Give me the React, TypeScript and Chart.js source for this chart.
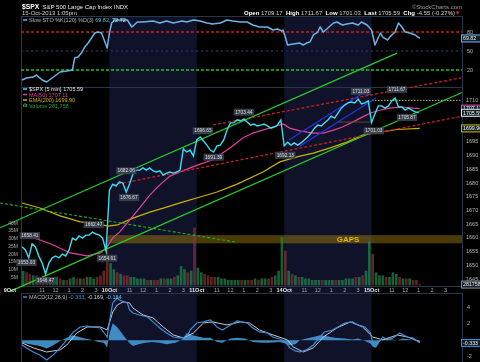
import React, { useEffect, useRef } from 'react';
import { Chart, registerables } from 'chart.js';

Chart.register(...registerables);

const FONT = '"Liberation Sans", Arial, Helvetica, sans-serif';

// ---------- time axis: 5-minute bars counted from 9-Oct-2013 09:30 ----------
const BARS_PER_SESSION = 78;
const SLOT_BARS = 3; // closes sampled every 15 minutes
const sessionLabels = ['9Oct', '10Oct', '11Oct', '14Oct', '15Oct'];
const shadedSessions = [1, 3];
const hourLabels = ['11', '12', '1', '2', '3'];
const hourOffsets = [18, 30, 42, 54, 66];
const X_MIN = -0.9;
const X_MAX = 392.7;

// ---------- $SPX 15-minute closes ----------
const closeOct9 = [1656.8, 1655.6, 1652.7, 1657.8, 1656.7, 1653.4, 1650.8, 1646.8, 1650.8, 1652.7, 1653.4, 1652.7, 1654.1, 1653.4, 1655.6, 1659.9, 1659.2, 1660.7, 1659.9, 1661.0, 1661.0, 1662.1, 1661.4, 1661.0, 1659.9, 1655.2];
const closeOct10 = [1677.4, 1679.6, 1678.9, 1680.4, 1680.0, 1676.7, 1679.6, 1683.3, 1684.7, 1684.7, 1685.5, 1684.7, 1685.5, 1684.4, 1684.0, 1684.4, 1682.9, 1683.6, 1684.0, 1683.6, 1684.0, 1684.7, 1692.4, 1691.3, 1692.0, 1689.8];
const closeOct11 = [1695.7, 1696.8, 1695.3, 1693.8, 1692.0, 1691.3, 1693.5, 1693.8, 1695.7, 1699.3, 1701.9, 1701.9, 1703.0, 1702.6, 1703.3, 1702.2, 1701.1, 1701.5, 1700.8, 1701.1, 1701.5, 1700.8, 1700.0, 1700.4, 1701.1, 1703.0];
const closeOct14 = [1693.5, 1694.9, 1693.8, 1694.6, 1693.8, 1694.6, 1695.7, 1696.8, 1698.2, 1700.0, 1701.1, 1700.8, 1701.9, 1703.0, 1704.4, 1703.7, 1705.5, 1707.3, 1708.4, 1709.2, 1709.5, 1709.2, 1710.6, 1708.8, 1709.2, 1709.9];
const closeOct15 = [1702.0, 1705.2, 1708.1, 1708.1, 1707.3, 1708.1, 1709.9, 1711.0, 1707.7, 1707.7, 1706.6, 1707.3, 1706.6, 1705.9, 1705.59];

// ---------- volume per 15-minute slot (millions, typical 5-min bar) ----------
const volOct9 = [9, 8, 7, 6, 6, 5, 6, 5, 4, 4, 5, 4, 3, 3, 4, 5, 4, 4, 4, 5, 5, 4, 5, 6, 9, 31];
const volOct10 = [14, 10, 8, 7, 6, 6, 5, 5, 4, 4, 4, 3, 3, 3, 3, 4, 4, 4, 4, 5, 6, 12, 10, 8, 9, 37];
const volOct11 = [11, 8, 7, 6, 5, 5, 5, 4, 4, 3, 3, 3, 3, 3, 3, 3, 3, 4, 3, 4, 4, 4, 5, 6, 9, 31];
const volOct14 = [22, 9, 7, 6, 5, 5, 4, 4, 3, 3, 3, 3, 3, 3, 3, 3, 3, 3, 4, 4, 4, 5, 5, 6, 9, 28];
const volOct15 = [20, 8, 6, 6, 5, 5, 8, 7, 5, 4, 4, 4, 3, 3, 0.28];

// ---------- MA(50) and EMA(200) ----------
const ma50Bars = [0, 16, 28, 43, 58, 70, 76, 81, 87, 96, 105, 114, 123, 132, 141, 150, 159, 170, 179, 188, 197, 206, 215, 224, 233, 239, 248, 260, 269, 278, 286, 295, 304, 311, 320, 328, 340, 349, 355];
const ma50Vals = [1661.4, 1659.2, 1657.4, 1654.5, 1653.4, 1654.5, 1656.7, 1660.0, 1662.1, 1666.5, 1670.9, 1675.6, 1679.3, 1682.5, 1684.0, 1685.5, 1686.9, 1688.4, 1690.9, 1693.5, 1696.4, 1698.2, 1699.3, 1700.4, 1701.5, 1700.0, 1699.0, 1698.2, 1698.2, 1699.3, 1700.4, 1702.2, 1704.1, 1705.5, 1706.6, 1707.3, 1707.7, 1707.3, 1707.11];
const ema200Bars = [0, 16, 34, 52, 67, 77, 85, 99, 114, 129, 144, 159, 174, 192, 215, 230, 248, 260, 275, 290, 304, 320, 335, 355];
const ema200Vals = [1672.7, 1670.9, 1668.0, 1665.8, 1665.1, 1664.3, 1664.7, 1667.2, 1669.4, 1671.2, 1673.1, 1674.9, 1676.7, 1679.6, 1684.0, 1687.7, 1689.8, 1690.9, 1692.8, 1694.9, 1697.5, 1698.6, 1699.5, 1699.9];

// ---------- Slow STO %K(120) ----------
const stoBars = [0, 4, 10, 13, 18, 22, 28, 34, 40, 45, 47, 50, 53, 56, 59, 62, 65, 68, 71, 74, 76, 78, 80, 83, 87, 94, 98, 103, 108, 117, 123, 129, 135, 143, 147, 153, 159, 165, 170, 177, 183, 188, 195, 201, 206, 212, 219, 224, 228, 232, 233, 235, 237, 242, 248, 251, 254, 257, 260, 264, 266, 269, 273, 278, 281, 286, 290, 295, 300, 303, 308, 312, 315, 317, 320, 322, 326, 330, 333, 336, 339, 342, 346, 351, 355];
const stoVals = [4.2, 7.3, 8.9, 12.1, 4.2, 1.0, 8.9, 16.8, 18.4, 20, 38.9, 40.5, 46.8, 56.3, 62.6, 70.5, 78.4, 80, 78.4, 64.2, 54.7, 78.4, 94.2, 99, 99, 99, 87.9, 95.8, 95.8, 97.4, 94.2, 97.4, 94.2, 97.4, 95.8, 99, 97.4, 94.2, 92.6, 94.2, 99, 97.4, 95.8, 95.8, 91.1, 87.9, 87.9, 83.2, 84.7, 81.6, 83.2, 72.1, 59.5, 61, 62.6, 59.5, 62.6, 64.2, 75.3, 80, 87.9, 80, 86.3, 94.2, 95.8, 91.1, 92.6, 94.2, 91.1, 95.8, 91.1, 83.2, 59.5, 67.4, 78.4, 72.1, 67.4, 75.3, 80, 94.2, 87.9, 80, 78.4, 75.3, 69.82];
const stoLevels = [80, 50, 20];

// ---------- MACD(12,26,9) ----------
const macdBars = [0, 4, 10, 16, 22, 28, 34, 40, 46, 52, 58, 63, 70, 76, 78, 81, 85, 87, 94, 96, 99, 105, 112, 117, 123, 129, 135, 141, 147, 150, 156, 162, 168, 174, 179, 186, 192, 201, 206, 212, 219, 224, 230, 235, 239, 244, 248, 254, 260, 266, 270, 277, 282, 288, 295, 300, 306, 311, 313, 315, 320, 322, 326, 331, 335, 337, 344, 349, 355];
const macdVals = [-0.58, -0.94, -1.44, -1.8, -2.42, -1.8, -0.94, 0.04, 1.02, 1.63, 1.75, 1.63, 1.51, 0.4, 2.25, 4.58, 5.19, 4.94, 4.58, 3.72, 3.35, 3.1, 2.86, 2.25, 1.51, 0.9, 0.4, 0.28, 0.28, 1.26, 2.12, 2.25, 2.49, 1.63, 1.26, 1.88, 2.37, 2.12, 1.51, 1.02, 0.9, 0.4, 0.16, -0.21, -0.94, -1.31, -1.44, -1.19, -0.58, 0.4, 1.02, 1.26, 1.63, 2.12, 2.25, 1.88, 1.63, 0.9, -0.33, -0.82, 0.04, 0.4, 0.04, 0.28, 0.65, 0.9, 0.4, 0.28, -0.333];
const signalBars = [0, 10, 22, 34, 40, 49, 58, 70, 76, 81, 85, 90, 96, 99, 108, 117, 126, 135, 144, 153, 162, 170, 183, 195, 203, 212, 224, 237, 242, 251, 260, 269, 281, 293, 304, 313, 322, 335, 344, 355];
const signalVals = [-0.33, -0.94, -1.44, -1.19, -0.58, 0.9, 1.63, 1.63, 1.26, 3.47, 4.33, 4.7, 4.58, 3.96, 3.1, 2.74, 1.63, 0.65, 0.28, 0.9, 2.12, 2.25, 1.88, 2.25, 2.12, 1.26, 0.65, 0.04, -0.82, -1.44, -0.94, 0.4, 1.51, 2.25, 1.63, 0.4, 0.04, 0.65, 0.4, -0.169];
const histBars = [0, 7, 16, 22, 28, 34, 40, 45, 49, 56, 62, 68, 73, 76, 78, 81, 85, 89, 95, 99, 104, 110, 116, 123, 129, 137, 143, 147, 152, 156, 162, 168, 174, 179, 186, 192, 199, 206, 214, 221, 230, 235, 239, 244, 248, 254, 260, 266, 272, 279, 288, 295, 300, 306, 311, 313, 316, 320, 324, 330, 335, 340, 346, 352, 355];
const histVals = [-0.3, -0.5, -0.7, -1.0, -0.6, -0.1, 0.3, 0.6, 0.5, 0.2, 0.05, -0.2, -0.3, -0.9, 0.8, 2.1, 1.6, 0.9, -0.2, -0.7, -0.5, -0.3, -0.2, -0.3, -0.5, -0.3, 0.1, 0.9, 0.6, 0.5, 0.3, 0.3, -0.2, -0.3, 0.2, 0.3, 0.2, -0.2, -0.3, -0.3, -0.2, -0.4, -0.6, -0.5, 0.0, 0.2, 0.4, 0.6, 0.5, 0.3, 0.2, 0.1, 0.2, -0.1, -0.4, -0.8, -0.9, 0.0, 0.3, 0.1, 0.0, 0.2, 0.1, -0.1, -0.164];

// ---------- drawn trend lines (bar, price) ----------
const greenUpperBars = [-19.6, 334.7];
const greenUpperVals = [1663.66, 1727.35];
const greenLowerBars = [-10.7, 392.7];
const greenLowerVals = [1640.48, 1712.99];
const greenDashBars = [-19.6, 191.9];
const greenDashVals = [1672.7, 1658.38];
const redUpperBars = [170.5, 392.7];
const redUpperVals = [1701.14, 1718.4];
const redLowerBars = [81.2, 392.7];
const redLowerVals = [1679.27, 1704.35];
const blueUpperBars = [238.3, 311.5];
const blueUpperVals = [1695.67, 1714.63];
const blueLowerBars = [248.1, 315.9];
const blueLowerVals = [1693.49, 1710.98];
const pivotBars = [281.1, 312.4];
const pivotVals = [1702.23, 1702.23];
const priorCloseBars = [312.4, 392.7];
const priorCloseVals = [1710.14, 1710.14];
const gapBars = [76.8, 392.7];
const gapVals = [1658.0, 1661.0];
const gapLabelBar = 291;

// ---------- price annotations ----------
const annotBars = [4, 7, 21, 64, 76, 93, 95.5, 161.5, 171, 198, 235, 302.5, 314, 334.7, 343.6];
const annotVals = [1653.03, 1658.41, 1646.47, 1662.47, 1654.61, 1682.06, 1676.67, 1696.65, 1691.39, 1703.44, 1692.13, 1711.03, 1701.03, 1711.67, 1705.87];
const annotAbove = [false, true, false, true, false, true, false, true, false, true, false, true, false, true, false];

// ---------- axis ticks ----------
const priceTicks = [1645, 1650, 1655, 1660, 1665, 1670, 1675, 1680, 1685, 1690, 1695, 1700, 1705, 1710];
const stoTicks = [80, 50, 20];
const macdTicks = [4, 2, -2];
const volTicks = [5, 10, 15, 20, 25, 30, 35, 40];

// ---------- last values / header ----------
const lastPrice = 1705.59;
const lastMa = 1707.11;
const lastEma = 1699.9;
const lastStoK = 69.82;
const lastStoD = 72.72;
const lastMacd = [-0.333, -0.169, -0.164];
const lastVolume = 281758;
const ohlc = [['Open', '1709.17'], ['High', '1711.67'], ['Low', '1701.03'], ['Last', '1705.59'], ['Chg', '-4.55 (-0.27%)']];

// ---------- layout (pixels) ----------
const LAY = { top: 16, stoBottom: 87, priceBottom: 286, macdTop: 293, bottom: 362 };
const RANGE_STO = [-441.3, 105.3];
const RANGE_PRICE = [1614.74, 1740.88];
const RANGE_VOL = [-49.9, 174.3];
const RANGE_MACD = [-2.67, 39.8];

const COL = {
  price: '#3edcf0', ma: '#e2429e', ema: '#c9b200', sto: '#6cb4e8', macd: '#3b8fda', signal: '#c8c8c8',
  hist: 'rgba(72,162,224,0.85)', border: '#26374b', shade: '#10122a', text: '#b4b4b4',
};

function pts(bars: number[], vals: number[]) {
  return bars.map((b, i) => ({ x: b, y: vals[i] }));
}

function drawParts(ctx: any, parts: any[], x: number, y: number, size: number) {
  let cx = x;
  for (const [s, color, bold] of parts) {
    ctx.font = `${bold ? 'bold ' : ''}${size}px ${FONT}`;
    ctx.fillStyle = color;
    ctx.fillText(s, cx, y);
    cx += ctx.measureText(s).width;
  }
  return cx;
}
function partsWidth(ctx: any, parts: any[], size: number) {
  let w = 0;
  for (const [s, , bold] of parts) {
    ctx.font = `${bold ? 'bold ' : ''}${size}px ${FONT}`;
    w += ctx.measureText(s).width;
  }
  return w;
}
function valueBox(ctx: any, text: string, x: number, y: number, border: string) {
  ctx.fillStyle = '#16202c';
  ctx.fillRect(x, y - 4, 22, 8);
  ctx.strokeStyle = border;
  ctx.lineWidth = 1;
  ctx.strokeRect(x + 0.5, y - 3.5, 22, 7);
  ctx.fillStyle = '#f0f0f0';
  ctx.font = `5.3px ${FONT}`;
  ctx.textAlign = 'left';
  ctx.fillText(text, x + 2, y + 0.3);
}

const decor = {
  id: 'decor',
  beforeDatasetsDraw(chart: any) {
    const { ctx, chartArea: a, scales } = chart;
    const sx = scales.x, sP = scales.yPrice;
    ctx.save();
    ctx.fillStyle = COL.shade;
    for (const d of shadedSessions) {
      const x0 = sx.getPixelForValue(d * BARS_PER_SESSION);
      const x1 = sx.getPixelForValue((d + 1) * BARS_PER_SESSION);
      ctx.fillRect(x0, a.top, x1 - x0, a.bottom - a.top);
    }
    const gx0 = sx.getPixelForValue(gapBars[0]);
    const gx1 = Math.min(sx.getPixelForValue(gapBars[1]), a.right);
    const gy0 = sP.getPixelForValue(gapVals[1]);
    const gy1 = sP.getPixelForValue(gapVals[0]);
    ctx.fillStyle = 'rgba(150,118,12,0.5)';
    ctx.fillRect(gx0, gy0, gx1 - gx0, gy1 - gy0);
    ctx.strokeStyle = COL.border;
    ctx.lineWidth = 1;
    const w = a.right - a.left;
    ctx.strokeRect(a.left + 0.5, LAY.top + 0.5, w, LAY.stoBottom - LAY.top);
    ctx.strokeRect(a.left + 0.5, LAY.stoBottom + 0.5, w, LAY.priceBottom - LAY.stoBottom);
    ctx.strokeRect(a.left + 0.5, LAY.macdTop + 0.5, w, LAY.bottom - LAY.macdTop + 2);
    ctx.restore();
  },
  afterDatasetsDraw(chart: any) {
    const { ctx, chartArea: a, scales } = chart;
    const sx = scales.x, sP = scales.yPrice, sS = scales.ySto, sM = scales.yMacd, sV = scales.yVol;
    ctx.save();

    // Slow STO %K line, mapped through the x and ySto scales
    ctx.save();
    ctx.beginPath();
    ctx.rect(a.left, LAY.top, a.right - a.left, LAY.stoBottom - LAY.top);
    ctx.clip();
    ctx.strokeStyle = COL.sto;
    ctx.lineWidth = 1.5;
    ctx.lineJoin = 'round';
    ctx.beginPath();
    stoBars.forEach((b, i) => {
      const px = sx.getPixelForValue(b);
      const py = sS.getPixelForValue(stoVals[i]);
      if (i === 0) ctx.moveTo(px, py); else ctx.lineTo(px, py);
    });
    ctx.stroke();
    ctx.restore();

    ctx.textBaseline = 'middle';
    ctx.font = `bold 8px ${FONT}`;
    ctx.fillStyle = '#dcb800';
    ctx.textAlign = 'center';
    ctx.fillText('GAPS', sx.getPixelForValue(gapLabelBar), sP.getPixelForValue((gapVals[0] + gapVals[1]) / 2) + 0.5);

    ctx.font = `5px ${FONT}`;
    ctx.fillStyle = '#a8a8a8';
    ctx.textAlign = 'right';
    for (const v of volTicks) ctx.fillText(`${v}M`, a.left - 3, sV.getPixelForValue(v));

    ctx.font = `4.8px ${FONT}`;
    ctx.textAlign = 'center';
    annotVals.forEach((v, i) => {
      const px = sx.getPixelForValue(annotBars[i]);
      const py = sP.getPixelForValue(v) + (annotAbove[i] ? -6.5 : 5.5);
      const s = v.toFixed(2);
      const w = ctx.measureText(s).width + 3;
      ctx.fillStyle = 'rgba(58,66,80,0.92)';
      ctx.fillRect(px - w / 2, py - 3.5, w, 7);
      ctx.fillStyle = '#dedede';
      ctx.fillText(s, px, py + 0.3);
    });

    ctx.font = `5.5px ${FONT}`;
    ctx.fillStyle = COL.text;
    ctx.textAlign = 'left';
    const rx = a.right + 4;
    for (const v of priceTicks) ctx.fillText(String(v), rx, sP.getPixelForValue(v));
    for (const v of stoTicks) ctx.fillText(String(v), rx + 1, sS.getPixelForValue(v));
    for (const v of macdTicks) ctx.fillText(String(v), rx + 1, sM.getPixelForValue(v));

    const bx = a.right - 1;
    valueBox(ctx, lastMa.toFixed(2), bx, sP.getPixelForValue(lastMa), COL.ma);
    valueBox(ctx, lastPrice.toFixed(2), bx, sP.getPixelForValue(lastPrice), '#d8eef6');
    valueBox(ctx, lastEma.toFixed(2), bx, sP.getPixelForValue(lastEma), COL.ema);
    valueBox(ctx, lastStoK.toFixed(2), bx, sS.getPixelForValue(lastStoK), COL.sto);
    valueBox(ctx, lastMacd[0].toFixed(3), bx, sM.getPixelForValue(lastMacd[0]), COL.macd);
    valueBox(ctx, String(lastVolume), bx, sV.getPixelForValue(lastVolume / 1e6), '#8a8a8a');

    const ly = (LAY.priceBottom + LAY.macdTop) / 2 + 0.5;
    sessionLabels.forEach((lab, d) => {
      const base = d * BARS_PER_SESSION;
      ctx.font = `bold 5.5px ${FONT}`;
      ctx.fillStyle = '#e6e6e6';
      if (d === 0) {
        ctx.textAlign = 'right';
        ctx.fillText(lab, sx.getPixelForValue(base) - 6, ly);
      } else {
        ctx.textAlign = 'center';
        ctx.fillText(lab, sx.getPixelForValue(base), ly);
      }
      ctx.font = `5.5px ${FONT}`;
      ctx.fillStyle = '#a8a8a8';
      ctx.textAlign = 'center';
      hourLabels.forEach((h, i) => ctx.fillText(h, sx.getPixelForValue(base + hourOffsets[i]), ly));
    });

    ctx.textAlign = 'left';
    ctx.textBaseline = 'alphabetic';
    const hx = drawParts(ctx, [['$SPX', '#ffffff', true]], 22, 8.5, 6.8);
    drawParts(ctx, [['S&P 500 Large Cap Index INDX', '#e8e8e8', false]], hx + 3, 8.5, 6);
    drawParts(ctx, [['15-Oct-2013 1:05pm', '#d0d0d0', false]], 22, 15.2, 6);
    ctx.textAlign = 'right';
    ctx.font = `6px ${FONT}`;
    ctx.fillStyle = '#9c9c9c';
    ctx.fillText('\u00A9StockCharts.com', a.right, 8.5);
    ctx.textAlign = 'left';
    const parts: any[] = [];
    ohlc.forEach(([k, v], i) => {
      parts.push([k, '#ffffff', true]);
      parts.push([' ' + v + (i < ohlc.length - 1 ? '  ' : ''), '#cfcfcf', false]);
    });
    const ow = partsWidth(ctx, parts, 6);
    drawParts(ctx, parts, a.right - 7 - ow, 15.2, 6);
    ctx.fillStyle = '#e02020';
    ctx.beginPath();
    const tx = a.right - 4.5;
    ctx.moveTo(tx - 2, 11.5);
    ctx.lineTo(tx + 2, 11.5);
    ctx.lineTo(tx, 14.5);
    ctx.closePath();
    ctx.fill();

    const marker = (x: number, y: number, color: string) => {
      ctx.strokeStyle = color;
      ctx.lineWidth = 1.5;
      ctx.beginPath();
      ctx.moveTo(x, y);
      ctx.lineTo(x + 4, y);
      ctx.stroke();
    };
    const lx = a.left + 2;
    marker(lx, 20, COL.sto);
    drawParts(ctx, [['Slow STO %K(120) %D(3) ', '#b8b8b8', false], [lastStoK.toFixed(2), COL.sto, false], [', ', '#b8b8b8', false], [lastStoD.toFixed(2), '#e6e6e6', false]], lx + 6, 22, 5.5);

    marker(lx, 89, COL.price);
    drawParts(ctx, [['$SPX (5 min) ' + lastPrice.toFixed(2), '#e6e6e6', false]], lx + 6, 91, 5.5);
    marker(lx, 94.5, COL.ma);
    drawParts(ctx, [['MA(50) ' + lastMa.toFixed(2), COL.ma, false]], lx + 6, 96.5, 5.5);
    marker(lx, 100, COL.ema);
    drawParts(ctx, [['EMA(200) ' + lastEma.toFixed(2), COL.ema, false]], lx + 6, 102, 5.5);
    ctx.fillStyle = '#22a04a';
    ctx.fillRect(lx, 104.5, 1, 2.5);
    ctx.fillRect(lx + 1.5, 103, 1, 4);
    ctx.fillRect(lx + 3, 104, 1, 3);
    drawParts(ctx, [['Volume ' + lastVolume.toLocaleString('en-US'), '#22a04a', false]], lx + 6, 107.5, 5.5);

    marker(lx, 297, COL.macd);
    drawParts(ctx, [['MACD(12,26,9) ', '#b8b8b8', false], [lastMacd[0].toFixed(3), COL.macd, false], [', ', '#b8b8b8', false], [lastMacd[1].toFixed(3), '#d8d8d8', false], [', ', '#b8b8b8', false], [lastMacd[2].toFixed(3), '#7cbcec', false]], lx + 6, 299, 5.5);

    ctx.restore();
  },
};

export default function App() {
  const ref = useRef<HTMLCanvasElement>(null);
  useEffect(() => {
    const dayCloses = [closeOct9, closeOct10, closeOct11, closeOct14, closeOct15];
    const dayVols = [volOct9, volOct10, volOct11, volOct14, volOct15];
    const pricePts: any[] = [];
    const volPts: any[] = [];
    const volColors: string[] = [];
    let prev = dayCloses[0][0];
    dayCloses.forEach((arr, d) => {
      arr.forEach((v, k) => {
        const bar = d * BARS_PER_SESSION + k * SLOT_BARS;
        pricePts.push({ x: bar, y: v });
        volPts.push({ x: bar + 1, y: dayVols[d][k] });
        volColors.push(v >= prev ? 'rgba(36,140,80,0.68)' : 'rgba(140,52,52,0.68)');
        prev = v;
      });
    });

    const line = (data: any[], color: string, width: number, axis: string, extra: any = {}) => ({
      type: 'line', data, borderColor: color, borderWidth: width, pointRadius: 0, tension: 0, fill: false, yAxisID: axis, ...extra,
    });
    const levelColors = ['#c81e1e', '#1e2e60', '#1ec81e'];

    const datasets: any[] = [
      line(pricePts, COL.price, 1.4, 'yPrice'),
      ...stoLevels.map((lv, i) => line(pts([X_MIN, X_MAX], [lv, lv]), levelColors[i], 1.4, 'ySto', { borderDash: i === 1 ? [2, 3] : [3, 2] })),
      line(pts(macdBars, macdVals), COL.macd, 1.2, 'yMacd'),
      line(pts(signalBars, signalVals), COL.signal, 1, 'yMacd'),
      line(pts(histBars, histVals), 'rgba(0,0,0,0)', 0, 'yMacd', { fill: 'origin', backgroundColor: COL.hist }),
      line(pts(blueUpperBars, blueUpperVals), '#2432e8', 1.2, 'yPrice', { clip: false }),
      line(pts(blueLowerBars, blueLowerVals), '#2432e8', 1.2, 'yPrice', { clip: false }),
      line(pts(greenUpperBars, greenUpperVals), '#26d026', 1.2, 'yPrice', { clip: false }),
      line(pts(greenLowerBars, greenLowerVals), '#26d026', 1.2, 'yPrice', { clip: false }),
      line(pts(greenDashBars, greenDashVals), '#1fb01f', 1.1, 'yPrice', { clip: false, borderDash: [3, 2] }),
      line(pts(redUpperBars, redUpperVals), '#d42222', 1.2, 'yPrice', { borderDash: [3, 2] }),
      line(pts(redLowerBars, redLowerVals), '#d42222', 1.2, 'yPrice', { borderDash: [3, 2] }),
      line(pts(pivotBars, pivotVals), '#5e4c1e', 1, 'yPrice'),
      line(pts(priorCloseBars, priorCloseVals), '#cbbb94', 1, 'yPrice', { borderDash: [1.5, 1.5] }),
      line(pts(ma50Bars, ma50Vals), COL.ma, 1.2, 'yPrice'),
      line(pts(ema200Bars, ema200Vals), COL.ema, 1.2, 'yPrice'),
      { type: 'bar', data: volPts, backgroundColor: volColors, borderWidth: 0, barThickness: 2, yAxisID: 'yVol' },
    ];

    const chart = new Chart(ref.current as HTMLCanvasElement, {
      type: 'line',
      data: { datasets },
      options: {
        responsive: false,
        animation: false,
        events: [],
        layout: { padding: { left: 21, right: 18, top: LAY.top, bottom: 0 } },
        plugins: { legend: { display: false }, tooltip: { enabled: false } },
        scales: {
          x: { type: 'linear', min: X_MIN, max: X_MAX, offset: false, display: false },
          ySto: { type: 'linear', axis: 'y', position: 'right', min: RANGE_STO[0], max: RANGE_STO[1], display: false },
          yPrice: { type: 'linear', axis: 'y', position: 'right', min: RANGE_PRICE[0], max: RANGE_PRICE[1], display: false },
          yVol: { type: 'linear', axis: 'y', position: 'left', min: RANGE_VOL[0], max: RANGE_VOL[1], display: false },
          yMacd: { type: 'linear', axis: 'y', position: 'right', min: RANGE_MACD[0], max: RANGE_MACD[1], display: false },
        },
      } as any,
      plugins: [decor],
    } as any);
    return () => chart.destroy();
  }, []);
  return (
    <div style={{ position: 'absolute', left: 0, top: 0, width: 480, height: 362, background: '#000', overflow: 'hidden' }}>
      <canvas ref={ref} width={480} height={362} style={{ display: 'block' }} />
    </div>
  );
}
